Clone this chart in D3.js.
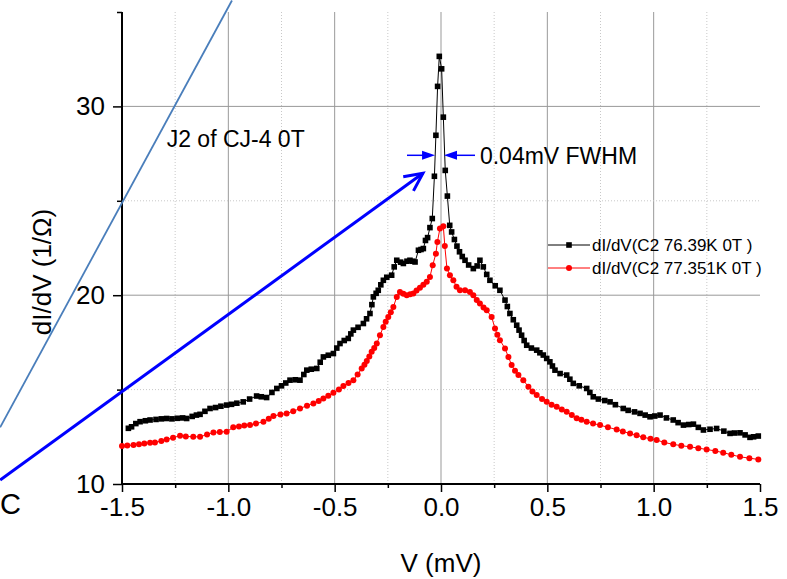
<!DOCTYPE html>
<html>
<head>
<meta charset="utf-8">
<script src="https://cdn.jsdelivr.net/npm/d3@7/dist/d3.min.js"></script>
<style>
  body { margin: 0; background: #fff; }
  svg { display: block; font-family: "Liberation Sans", Arial, sans-serif; }
</style>
</head>
<body>
<div id="chart"></div>
<script>
// black series: dI/dV(C2 76.39K 0T )
var vBlack = [-1.47,-1.455,-1.435,-1.415,-1.39,-1.368,-1.34,-1.315,-1.29,-1.265,-1.24,-1.215,-1.196,-1.17,-1.15,-1.133,-1.11,-1.086,-1.06,-1.035,-1.008,-0.985,-0.96,-0.93,-0.9,-0.867,-0.845,-0.82,-0.795,-0.772,-0.75,-0.73,-0.71,-0.685,-0.663,-0.645,-0.631,-0.61,-0.584,-0.568,-0.553,-0.53,-0.506,-0.49,-0.475,-0.455,-0.436,-0.424,-0.412,-0.39,-0.365,-0.35,-0.334,-0.325,-0.318,-0.305,-0.295,-0.283,-0.271,-0.255,-0.232,-0.22,-0.208,-0.19,-0.177,-0.16,-0.146,-0.134,-0.122,-0.106,-0.094,-0.083,-0.073,-0.063,-0.052,-0.041,-0.031,-0.024,-0.016,-0.008,0.003,0.011,0.02,0.03,0.041,0.05,0.063,0.075,0.087,0.1,0.113,0.13,0.152,0.17,0.183,0.199,0.215,0.23,0.255,0.277,0.301,0.312,0.324,0.34,0.356,0.367,0.379,0.391,0.403,0.425,0.45,0.465,0.481,0.497,0.512,0.524,0.536,0.56,0.591,0.606,0.622,0.65,0.685,0.7,0.716,0.74,0.77,0.795,0.82,0.857,0.88,0.91,0.936,0.96,0.983,1.005,1.03,1.06,1.092,1.115,1.14,1.165,1.187,1.21,1.234,1.265,1.296,1.33,1.359,1.38,1.406,1.43,1.453,1.47,1.492];
var gBlack = [12.95,13.03,13.2,13.3,13.35,13.39,13.42,13.45,13.47,13.45,13.48,13.5,13.47,13.58,13.65,13.69,13.85,14.0,14.05,14.12,14.18,14.22,14.28,14.35,14.5,14.66,14.62,14.58,14.85,15.06,15.2,15.35,15.5,15.52,15.5,15.8,16.03,16.08,16.12,16.45,16.73,16.82,16.91,17.2,17.44,17.6,17.71,17.95,18.15,18.3,18.5,18.75,19.03,19.5,19.91,20.1,20.26,20.55,20.79,20.95,21.06,21.5,21.85,21.75,21.68,21.8,21.85,21.8,21.76,22.38,22.42,22.47,22.9,23.05,23.58,24.06,26.3,28.47,31.06,32.65,31.99,29.43,26.61,25.25,23.7,23.35,22.95,22.6,22.3,22.05,21.85,21.6,21.41,21.55,21.85,21.5,21.1,20.79,20.5,20.26,19.74,19.4,19.03,18.7,18.41,18.15,17.88,17.6,17.35,17.2,17.09,16.95,16.83,16.65,16.47,16.25,16.03,15.85,15.77,15.55,15.33,15.2,15.06,14.85,14.62,14.5,14.42,14.35,14.2,14.0,13.9,13.82,13.74,13.65,13.56,13.6,13.65,13.5,13.39,13.25,13.12,13.15,13.17,13.0,12.86,12.9,12.94,12.8,12.68,12.7,12.71,12.6,12.47,12.5,12.54];

// red series: dI/dV(C2 77.351K 0T )
var vRed = [-1.5,-1.475,-1.446,-1.42,-1.395,-1.368,-1.345,-1.315,-1.29,-1.26,-1.227,-1.2,-1.165,-1.133,-1.1,-1.07,-1.04,-1.008,-0.977,-0.95,-0.925,-0.898,-0.87,-0.835,-0.81,-0.788,-0.755,-0.726,-0.695,-0.663,-0.63,-0.6,-0.575,-0.553,-0.53,-0.506,-0.48,-0.459,-0.435,-0.412,-0.392,-0.373,-0.36,-0.349,-0.337,-0.326,-0.314,-0.302,-0.287,-0.271,-0.26,-0.248,-0.236,-0.224,-0.208,-0.193,-0.177,-0.161,-0.145,-0.13,-0.115,-0.099,-0.083,-0.067,-0.052,-0.039,-0.024,-0.017,-0.005,0.011,0.018,0.028,0.042,0.058,0.073,0.089,0.113,0.136,0.152,0.168,0.183,0.2,0.215,0.238,0.254,0.265,0.277,0.301,0.317,0.332,0.348,0.364,0.387,0.411,0.43,0.45,0.475,0.497,0.52,0.544,0.568,0.591,0.615,0.638,0.66,0.685,0.715,0.748,0.785,0.826,0.855,0.889,0.92,0.951,0.985,1.014,1.05,1.092,1.13,1.171,1.21,1.249,1.29,1.327,1.365,1.406,1.45,1.492];
var gRed = [12.01,12.04,12.06,12.1,12.15,12.19,12.2,12.28,12.36,12.45,12.56,12.52,12.5,12.5,12.62,12.73,12.76,12.77,13.0,13.05,13.1,13.12,13.2,13.3,13.45,13.6,13.68,13.74,13.85,14.0,14.15,14.27,14.4,14.53,14.68,14.83,15.0,15.19,15.35,15.5,15.8,16.12,16.32,16.52,16.75,17.0,17.2,17.44,17.88,18.32,18.6,18.85,19.1,19.38,19.91,20.17,20.08,20.0,20.05,20.09,20.25,20.4,20.55,20.71,20.97,21.59,22.2,22.82,23.53,23.65,22.6,21.41,21.06,20.79,20.45,20.26,20.26,20.17,20.0,19.75,19.56,19.35,19.2,18.85,18.24,17.9,17.62,17.18,16.73,16.3,16.0,15.77,15.5,15.15,14.9,14.71,14.5,14.35,14.2,14.09,13.95,13.83,13.65,13.48,13.4,13.3,13.2,13.12,13.0,12.89,12.78,12.68,12.58,12.47,12.4,12.33,12.2,12.1,12.03,11.97,11.9,11.83,11.75,11.66,11.55,11.44,11.37,11.3];

var xTicks = [-1.5, -1.0, -0.5, 0.0, 0.5, 1.0, 1.5],
	xMinor = [-1.25, -0.75, -0.25, 0.25, 0.75, 1.25],
	yTicks = [10, 20, 30],
	yMinor = [15, 25, 35];

var legendNames = ["dI/dV(C2 76.39K 0T )", "dI/dV(C2 77.351K 0T )"];

var width = 787, height = 579;

var svg = d3.select("#chart").append("svg")
	.attr("width", width)
	.attr("height", height);

var x = d3.scaleLinear().domain([-1.5, 1.5]).range([122, 760]);
var y = d3.scaleLinear().domain([10, 35]).range([484, 12]);

// grid
var grid = svg.append("g");
grid.selectAll(".vmaj").data(xTicks.filter(d => d > -1.5 && d < 1.5)).enter().append("line")
	.attr("x1", d => x(d)).attr("x2", d => x(d))
	.attr("y1", y(10)).attr("y2", y(35))
	.attr("stroke", "#999").attr("stroke-width", 1);
grid.selectAll(".vmin").data(xMinor).enter().append("line")
	.attr("x1", d => x(d)).attr("x2", d => x(d))
	.attr("y1", y(10)).attr("y2", y(35))
	.attr("stroke", "#c8c8c8").attr("stroke-width", 1).attr("stroke-dasharray", "1,2");
grid.selectAll(".hmaj").data([20, 30]).enter().append("line")
	.attr("x1", x(-1.5)).attr("x2", x(1.5))
	.attr("y1", d => y(d)).attr("y2", d => y(d))
	.attr("stroke", "#999").attr("stroke-width", 1);
grid.selectAll(".hmin").data([15, 25]).enter().append("line")
	.attr("x1", x(-1.5)).attr("x2", x(1.5))
	.attr("y1", d => y(d)).attr("y2", d => y(d))
	.attr("stroke", "#c8c8c8").attr("stroke-width", 1).attr("stroke-dasharray", "1,2");

// axes (plain hyphen for negatives, like the original)
var fmtX = d => d3.format(".1f")(d).replace("\u2212", "-");
var xAxis = d3.axisBottom(x).tickValues(xTicks).tickFormat(fmtX).tickSize(8).tickPadding(6);
var xAxisMinor = d3.axisBottom(x).tickValues(xMinor).tickFormat("").tickSize(4);
var yAxis = d3.axisLeft(y).tickValues(yTicks).tickFormat(d3.format("d")).tickSize(9).tickPadding(8);
var yAxisMinor = d3.axisLeft(y).tickValues(yMinor).tickFormat("").tickSize(5);

function styleAxis(g) {
	g.select(".domain").attr("stroke", "#000").attr("stroke-width", 2);
	g.selectAll(".tick line").attr("stroke", "#000").attr("stroke-width", 1.5);
	g.selectAll(".tick text").attr("fill", "#000").style("font-size", "26px")
		.style("font-family", "'Liberation Sans', Arial, sans-serif");
}

svg.append("g").attr("transform", "translate(0," + y(10) + ")").call(xAxisMinor).call(styleAxis)
	.select(".domain").remove();
svg.append("g").attr("transform", "translate(" + x(-1.5) + ",0)").call(yAxisMinor).call(styleAxis)
	.select(".domain").remove();
svg.append("g").attr("transform", "translate(0," + y(10) + ")").call(xAxis).call(styleAxis)
	.select(".domain").attr("d", "M" + x(-1.5) + ",0H" + x(1.5));
svg.append("g").attr("transform", "translate(" + x(-1.5) + ",0)").call(yAxis).call(styleAxis)
	.select(".domain").attr("d", "M0," + y(10) + "V" + y(35));

svg.append("text").attr("x", x(0)).attr("y", 572).attr("text-anchor", "middle")
	.style("font-size", "26px").text("V (mV)");
svg.append("text").attr("transform", "translate(51," + 272 + ") rotate(-90)")
	.attr("text-anchor", "middle").style("font-size", "26px").text("dI/dV (1/\u03A9)");

// series
var blackData = vBlack.map((v, i) => ({v: v, g: gBlack[i]}));
var redData = vRed.map((v, i) => ({v: v, g: gRed[i]}));
var line = d3.line().x(d => x(d.v)).y(d => y(d.g));

svg.append("path").datum(redData).attr("d", line)
	.attr("fill", "none").attr("stroke", "#ff0000").attr("stroke-width", 1);
svg.append("g").selectAll("circle").data(redData).enter().append("circle")
	.attr("cx", d => x(d.v)).attr("cy", d => y(d.g)).attr("r", 3).attr("fill", "#ff0000");

svg.append("path").datum(blackData).attr("d", line)
	.attr("fill", "none").attr("stroke", "#000").attr("stroke-width", 1);
svg.append("g").selectAll("rect").data(blackData).enter().append("rect")
	.attr("x", d => x(d.v) - 2.8).attr("y", d => y(d.g) - 2.8)
	.attr("width", 5.6).attr("height", 5.6).attr("fill", "#000");

// annotations (left over lines from neighbouring panel, in data coords)
svg.append("line")
	.attr("x1", x(-2.073)).attr("y1", y(13.0))
	.attr("x2", x(-0.983)).attr("y2", y(35.61))
	.attr("stroke", "#4a7ebb").attr("stroke-width", 1.8);

var tip = {v: -0.085, g: 26.46};
svg.append("line")
	.attr("x1", x(-2.073)).attr("y1", y(10.21))
	.attr("x2", x(tip.v)).attr("y2", y(tip.g))
	.attr("stroke", "#0000ff").attr("stroke-width", 3);
(function () {
	var tx = x(tip.v), ty = y(tip.g);
	var ang = Math.atan2(ty - y(10.21), tx - x(-2.073));
	var len = 20, spread = 0.45;
	var p1 = [tx - len * Math.cos(ang - spread), ty - len * Math.sin(ang - spread)];
	var p2 = [tx - len * Math.cos(ang + spread), ty - len * Math.sin(ang + spread)];
	svg.append("path")
		.attr("d", "M" + p1 + "L" + tx + "," + ty + "L" + p2)
		.attr("fill", "none").attr("stroke", "#0000ff").attr("stroke-width", 3)
		.attr("stroke-linejoin", "miter");
})();

// FWHM arrows
var fwhmY = 27.41;
function hArrow(from, to) {
	var yy = y(fwhmY), x1 = x(from), x2 = x(to);
	var dir = x2 > x1 ? 1 : -1;
	svg.append("line").attr("x1", x1).attr("y1", yy).attr("x2", x2 - dir * 8).attr("y2", yy)
		.attr("stroke", "#0000ff").attr("stroke-width", 1.5);
	svg.append("path")
		.attr("d", "M" + x2 + "," + yy + "L" + (x2 - dir * 13) + "," + (yy - 4.5) + "L" + (x2 - dir * 13) + "," + (yy + 4.5) + "Z")
		.attr("fill", "#0000ff");
}
hArrow(-0.16, -0.028);
hArrow(0.16, 0.014);

svg.append("text").attr("x", x(0.183)).attr("y", y(fwhmY) + 9)
	.style("font-size", "23px").text("0.04mV FWHM");
svg.append("text").attr("x", x(-1.29)).attr("y", y(27.85))
	.style("font-size", "23px").text("J2 of CJ-4 0T");

svg.append("text").attr("x", 0).attr("y", 514)
	.style("font-size", "29px").text("C");

// legend
var legend = svg.append("g").attr("transform", "translate(548,245)");
var leg = legend.selectAll("g").data(legendNames).enter().append("g")
	.attr("transform", (d, i) => "translate(0," + i * 23 + ")");
leg.append("line").attr("x1", 0).attr("x2", 42).attr("y1", 0).attr("y2", 0)
	.attr("stroke", (d, i) => i ? "#ff0000" : "#000").attr("stroke-width", 1);
leg.filter((d, i) => i === 0).append("rect")
	.attr("x", 18.2).attr("y", -2.8).attr("width", 5.6).attr("height", 5.6).attr("fill", "#000");
leg.filter((d, i) => i === 1).append("circle")
	.attr("cx", 21).attr("cy", 0).attr("r", 3).attr("fill", "#ff0000");
leg.append("text").attr("x", 44).attr("y", 6).style("font-size", "17px").text(d => d);
</script>
</body>
</html>
